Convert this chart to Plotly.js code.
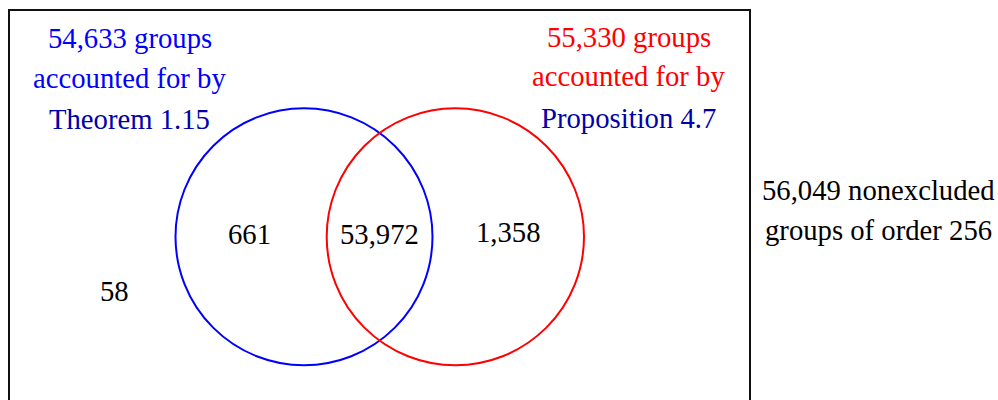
<!DOCTYPE html>
<html>
<head>
<meta charset="utf-8">
<script src="https://cdn.plot.ly/plotly-3.0.1.min.js"></script>
<style>html,body{margin:0;padding:0;background:#fff;}#chart{width:998px;height:400px;}</style>
</head>
<body>
<div id="chart"></div>
<script>
// Data
const setNames = ['Theorem 1.15', 'Proposition 4.7'];
const setTotals = [54633, 55330];
const regionNames = ['Theorem 1.15 only', 'Both', 'Proposition 4.7 only', 'Neither'];
const regionCounts = [661, 53972, 1358, 58];
const universeTotal = 56049;
const universeOrder = 256;

const fmt = v => v.toLocaleString('en-US');
const FONT = '"Liberation Serif", "Times New Roman", Times, serif';
const FS = 28.7;
const BLUE = '#0000ff', DARKBLUE = '#0000aa', RED = '#ff0000', BLACK = '#000000';

// Layout geometry (pixel-space)
const circles = [
  {x0: 175.5, x1: 432.5, y0: 108.3, y1: 365.3, color: BLUE},
  {x0: 326.7, x1: 584.0, y0: 108.3, y1: 365.3, color: RED}
];
const regionPos = [[249, 234], [379, 234], [508, 231.5], [114.5, 291]];

function ann(text, x, y, color) {
  return {text: text, x: x, y: y, xref: 'x', yref: 'y', showarrow: false,
    xanchor: 'center', yanchor: 'middle', font: {family: FONT, size: FS, color: color}};
}

const annotations = [
  ann(fmt(setTotals[0]) + ' groups', 129.5, 37.5, BLUE),
  ann('accounted for by', 129.5, 77.5, BLUE),
  ann(setNames[0], 129.5, 118.5, DARKBLUE),
  ann(fmt(setTotals[1]) + ' groups', 628.7, 36.5, RED),
  ann('accounted for by', 628.7, 76, RED),
  ann(setNames[1], 628.7, 117.5, DARKBLUE),
  ann(fmt(universeTotal) + ' nonexcluded', 878, 190, BLACK),
  ann('groups of order ' + universeOrder, 878, 229.5, BLACK)
];
regionCounts.forEach((c, i) => annotations.push(ann(fmt(c), regionPos[i][0], regionPos[i][1], BLACK)));

const shapes = [
  {type: 'rect', xref: 'x', yref: 'y', x0: 9, x1: 750, y0: 10, y1: 430,
   line: {color: '#111111', width: 2}}
];
circles.forEach(c => shapes.push({type: 'circle', xref: 'x', yref: 'y',
  x0: c.x0, x1: c.x1, y0: c.y0, y1: c.y1, line: {color: c.color, width: 2}}));

const layout = {
  width: 998, height: 400,
  margin: {l: 0, r: 0, t: 0, b: 0, pad: 0},
  paper_bgcolor: '#ffffff', plot_bgcolor: '#ffffff',
  font: {family: FONT},
  xaxis: {range: [0, 998], visible: false, fixedrange: true},
  yaxis: {range: [400, 0], visible: false, fixedrange: true},
  showlegend: false,
  shapes: shapes,
  annotations: annotations
};

Plotly.newPlot('chart', [{type: 'scatter', x: [], y: [], mode: 'markers', hoverinfo: 'skip'}], layout,
  {displayModeBar: false, staticPlot: true});
</script>
</body>
</html>
